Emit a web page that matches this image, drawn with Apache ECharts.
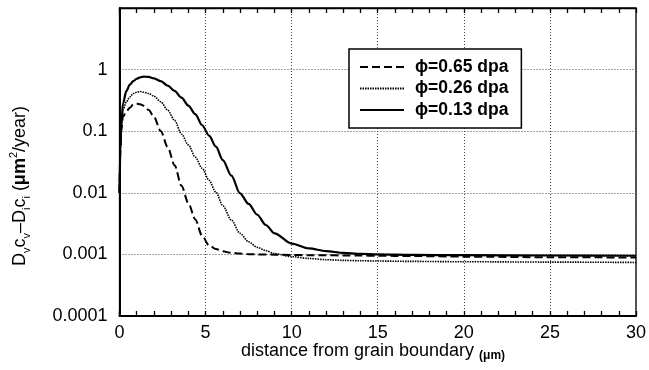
<!DOCTYPE html>
<html>
<head>
<meta charset="utf-8">
<script src="https://cdn.jsdelivr.net/npm/echarts@6/dist/echarts.min.js"></script>
<style>
  html, body { margin: 0; padding: 0; background: #fff; }
  #main { width: 649px; height: 370px; }
</style>
</head>
<body>
<div id="main"></div>
<script>
// distance from grain boundary (um)
let distance = [0, 0.05, 0.1, 0.2, 0.4, 0.6, 0.8, 1.0, 1.2, 1.4, 1.7, 2.0, 2.4, 2.8, 3.2, 3.6, 4.0, 4.4, 4.8, 5.2, 5.6, 6.0, 6.5, 7.0, 7.5, 8.0, 8.5, 9.0, 10, 11, 12, 13, 14, 15, 17, 20, 25, 30];

let flux065 = [0.01, 0.05, 0.1, 0.17, 0.21, 0.24, 0.27, 0.28, 0.275, 0.26, 0.22, 0.17, 0.1, 0.055, 0.028, 0.013, 0.0068, 0.0037, 0.002, 0.0014, 0.00122, 0.00112, 0.00106, 0.00103, 0.00101, 0.001, 0.001, 0.00099, 0.00098, 0.00097, 0.00097, 0.00096, 0.00096, 0.00095, 0.00094, 0.00092, 0.0009, 0.00089];

let flux026 = [0.01, 0.05, 0.11, 0.22, 0.3, 0.36, 0.41, 0.43, 0.44, 0.43, 0.41, 0.37, 0.3, 0.22, 0.15, 0.09, 0.06, 0.038, 0.025, 0.016, 0.0102, 0.0062, 0.0036, 0.0022, 0.0016, 0.0013, 0.00115, 0.00103, 0.00092, 0.00086, 0.00082, 0.0008, 0.00079, 0.00078, 0.00077, 0.00076, 0.00075, 0.00074];

let flux013 = [0.01, 0.05, 0.12, 0.28, 0.45, 0.57, 0.65, 0.71, 0.75, 0.77, 0.76, 0.72, 0.65, 0.55, 0.45, 0.35, 0.26, 0.19, 0.125, 0.085, 0.056, 0.034, 0.019, 0.0098, 0.0066, 0.0044, 0.003, 0.0022, 0.0015, 0.00125, 0.00113, 0.00106, 0.00102, 0.001, 0.00098, 0.00097, 0.00096, 0.00095];

let seriesNames = ["ϕ=0.65 dpa", "ϕ=0.26 dpa", "ϕ=0.13 dpa"];
let yTickLabels = ["0.0001", "0.001", "0.01", "0.1", "1", ""];

let font = "'Liberation Sans', Arial, Helvetica, sans-serif";
let myChart = echarts.init(document.getElementById("main"), null, { renderer: "canvas" });

function pairs(xs, ys) {
  let out = [];
  for (let i = 0; i < xs.length; i++) {
    out.push([xs[i], ys[i]]);
  }
  return out;
}

function makeLine(name, ys, type, width) {
  return {
    name: name,
    type: "line",
    data: pairs(distance, ys),
    smooth: 0.3,
    smoothMonotone: "x",
    symbol: "none",
    showSymbol: false,
    lineStyle: { color: "#000", width: width, type: type },
    itemStyle: { color: "#000" },
  };
}

let option = {
  animation: false,
  backgroundColor: "#fff",
  textStyle: { fontFamily: font },
  grid: {
    left: 119.5,
    right: 10.5,
    top: 8,
    bottom: 54,
    show: true,
    borderColor: "#000",
    borderWidth: 1.3,
  },
  legend: {
    orient: "vertical",
    left: 349,
    top: 49,
    padding: [8, 13, 8, 10],
    itemGap: 1.5,
    itemWidth: 44,
    itemHeight: 14,
    borderColor: "#000",
    borderWidth: 1.5,
    backgroundColor: "#fff",
    data: seriesNames,
    itemStyle: { opacity: 0 },
    textStyle: {
      fontFamily: font,
      fontSize: 17.5,
      fontWeight: "bold",
      color: "#000",
      lineHeight: 20,
      padding: [0, 0, 0, 6],
    },
  },
  xAxis: [
    {
      type: "value",
      min: 0,
      max: 30,
      interval: 5,
      axisLine: { lineStyle: { color: "#000", width: 2 } },
      axisTick: { inside: true, length: 5, lineStyle: { color: "#000", width: 1.3 } },
      minorTick: { show: true, splitNumber: 5, length: 5, lineStyle: { color: "#000", width: 1.3 } },
      axisLabel: { fontSize: 18, color: "#000", margin: 8, fontFamily: font },
      splitLine: { show: true, lineStyle: { color: "#444", width: 1, type: [1, 2] } },
    },
    {
      type: "value",
      position: "top",
      min: 0,
      max: 30,
      interval: 5,
      axisLine: { show: true, lineStyle: { color: "#000", width: 1.3 } },
      axisTick: { inside: true, length: 5, lineStyle: { color: "#000", width: 1.3 } },
      minorTick: { show: true, splitNumber: 5, length: 5, lineStyle: { color: "#000", width: 1.3 } },
      axisLabel: { show: false },
      splitLine: { show: false },
    },
  ],
  yAxis: {
    type: "log",
    logBase: 10,
    min: 0.0001,
    max: 10,
    axisLine: { show: true, lineStyle: { color: "#000", width: 2 } },
    axisTick: { show: false },
    axisLabel: {
      fontSize: 18,
      color: "#000",
      margin: 12,
      fontFamily: font,
      formatter: function (v) {
        let k = Math.round(Math.log10(v)) + 4;
        return yTickLabels[k] !== undefined ? yTickLabels[k] : "";
      },
    },
    splitLine: { show: true, lineStyle: { color: "#444", width: 1, type: [1, 2] } },
  },
  graphic: [
    {
      type: "text",
      x: 20,
      y: 186,
      rotation: Math.PI / 2,
      style: {
        text: "{n|D}{s|v}{n|c}{s|v}{n|–D}{s|i}{n|c}{s|i}{n| (}{b|μm}{p|2}{n|/year)}",
        align: "center",
        verticalAlign: "middle",
        fill: "#000",
        rich: {
          n: { fontSize: 18, fontFamily: font, lineHeight: 24, fill: "#000" },
          s: { fontSize: 11, fontFamily: font, lineHeight: 10, verticalAlign: "bottom", fill: "#000" },
          b: { fontSize: 18, fontFamily: font, fontWeight: "bold", lineHeight: 24, fill: "#000" },
          p: { fontSize: 11, fontFamily: font, lineHeight: 12, verticalAlign: "top", fill: "#000" },
        },
      },
    },
    {
      type: "text",
      x: 373,
      y: 351,
      style: {
        text: "{n|distance from grain boundary }{u|(μm)}",
        align: "center",
        verticalAlign: "middle",
        fill: "#000",
        rich: {
          n: { fontSize: 18, fontFamily: font, lineHeight: 22, fill: "#000" },
          u: { fontSize: 12, fontFamily: font, fontWeight: "bold", lineHeight: 14, verticalAlign: "bottom", fill: "#000" },
        },
      },
    },
  ],
  series: [
    makeLine(seriesNames[0], flux065, [8, 4], 2),
    makeLine(seriesNames[1], flux026, [1.5, 1], 1.6),
    makeLine(seriesNames[2], flux013, "solid", 2.2),
  ],
};

myChart.setOption(option);
</script>
</body>
</html>
